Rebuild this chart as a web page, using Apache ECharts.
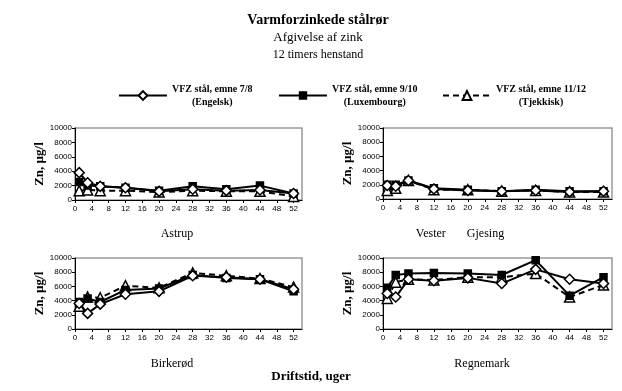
<!DOCTYPE html>
<html><head><meta charset="utf-8">
<script src="https://cdn.jsdelivr.net/npm/echarts@6/dist/echarts.min.js"></script>
<style>html,body{margin:0;padding:0;background:#fff}#c{width:622px;height:391px}</style>
</head><body><div id="c"></div>
<script>
const weeks = [1, 3, 6, 12, 20, 28, 36, 44, 52];
const seriesNames = ['VFZ stål, emne 7/8', 'VFZ stål, emne 9/10', 'VFZ stål, emne 11/12'];
const seriesOrigins = ['(Engelsk)', '(Luxembourg)', '(Tjekkisk)'];
const panelNames = ['Astrup', 'Vester       Gjesing', 'Birkerød', 'Regnemark'];
const xTicks = [0, 4, 8, 12, 16, 20, 24, 28, 32, 36, 40, 44, 48, 52];
const yTicks = [0, 2000, 4000, 6000, 8000, 10000];

// values per panel: [Engelsk, Luxembourg, Tjekkisk]
const astrupEngelsk    = [3800, 2400, 1900, 1700, 1200, 1500, 1300, 1400, 900];
const astrupLux        = [2500, 2000, 1900, 1700, 1300, 1900, 1500, 2000, 900];
const astrupTjek       = [1300, 1400, 1300, 1300, 1100, 1300, 1200, 1200, 500];
const vesterEngelsk    = [1900, 1800, 2600, 1400, 1200, 1100, 1200, 1000, 1100];
const vesterLux        = [2000, 2000, 2600, 1500, 1300, 1100, 1300, 1100, 1100];
const vesterTjek       = [1200, 1500, 2600, 1300, 1300, 1100, 1200, 1000, 1000];
const birkerodEngelsk  = [3600, 2200, 3500, 4900, 5300, 7500, 7300, 7000, 5600];
const birkerodLux      = [3800, 4300, 3800, 5500, 5700, 7600, 7200, 7000, 5300];
const birkerodTjek     = [3200, 4500, 4400, 6100, 5800, 7900, 7500, 7100, 5900];
const regnemarkEngelsk = [5000, 4500, 7000, 6800, 7200, 6400, 8400, 7000, 6400];
const regnemarkLux     = [5800, 7600, 7800, 7900, 7800, 7600, 9700, 4700, 7300];
const regnemarkTjek    = [4300, 6600, 7000, 6900, 7300, 7300, 7800, 4500, 6200];

const panels = [
  [astrupEngelsk, astrupLux, astrupTjek],
  [vesterEngelsk, vesterLux, vesterTjek],
  [birkerodEngelsk, birkerodLux, birkerodTjek],
  [regnemarkEngelsk, regnemarkLux, regnemarkTjek]
];

const serif = '"Liberation Serif", "Times New Roman", serif';
const sans = '"Liberation Sans", Arial, sans-serif';

const grids = [
  {left: 75, top: 128, width: 227, height: 72},
  {left: 383, top: 128, width: 229, height: 71},
  {left: 75, top: 258, width: 227, height: 71},
  {left: 383, top: 258, width: 229, height: 71}
];

const styles = [
  {symbol: 'diamond', symbolSize: 10, lineType: 'solid', itemColor: '#fff', borderColor: '#000', legendH: 11},
  {symbol: 'rect', symbolSize: 7, lineType: 'solid', itemColor: '#000', borderColor: '#000', legendH: 8},
  {symbol: 'triangle', symbolSize: 10, lineType: [6, 4], itemColor: '#fff', borderColor: '#000', legendH: 11}
];

const xAxes = grids.map((g, i) => ({
  gridIndex: i, type: 'value', min: 0, max: 54, interval: 4,
  axisLine: {lineStyle: {color: '#000', width: 1}},
  axisTick: {length: 3, lineStyle: {color: '#000'}},
  axisLabel: {fontFamily: sans, fontSize: 8, color: '#000', margin: 5, showMaxLabel: false,
    formatter: v => xTicks.indexOf(v) >= 0 ? String(v) : ''},
  splitLine: {show: false}
}));
const yAxes = grids.map((g, i) => ({
  gridIndex: i, type: 'value', min: 0, max: 10000, interval: 2000,
  name: 'Zn, µg/l', nameLocation: 'middle', nameGap: 29, nameRotate: 90,
  nameTextStyle: {fontFamily: serif, fontWeight: 'bold', fontSize: 13, color: '#000'},
  axisLine: {show: true, lineStyle: {color: '#000', width: 1}},
  axisTick: {show: true, length: 3, lineStyle: {color: '#000'}},
  axisLabel: {fontFamily: sans, fontSize: 8, color: '#000', margin: 3,
    formatter: v => yTicks.indexOf(v) >= 0 ? String(v) : ''},
  splitLine: {show: false}
}));

const series = [];
panels.forEach((vals, p) => {
  vals.forEach((arr, s) => {
    const st = styles[s];
    series.push({
      name: seriesNames[s], type: 'line', xAxisIndex: p, yAxisIndex: p,
      data: weeks.map((w, k) => [w, arr[k]]),
      symbol: st.symbol, symbolSize: st.symbolSize, showAllSymbol: true,
      lineStyle: {color: '#000', width: 2, type: st.lineType},
      itemStyle: {color: st.itemColor, borderColor: st.borderColor, borderWidth: 1.5},
      z: 3 - s, animation: false
    });
  });
});

const legendLefts = [113, 273, 437];
const legends = seriesNames.map((n, i) => ({
  data: [n], left: legendLefts[i], top: 79, itemWidth: 48, itemHeight: styles[i].legendH, itemGap: 0,
  selectedMode: true,
  formatter: name => '{a|' + name + '}\n{b|' + seriesOrigins[i] + '}',
  textStyle: {
    rich: {
      a: {fontFamily: serif, fontWeight: 'bold', fontSize: 10, color: '#000', lineHeight: 13},
      b: {fontFamily: serif, fontWeight: 'bold', fontSize: 10, color: '#000', lineHeight: 13, align: 'center'}
    }
  }
}));

const labelPos = [[177, 228], [460, 228], [172, 358], [482, 358]];
const titles = [
  {text: 'Varmforzinkede stålrør', left: 318, top: 13, textAlign: 'center',
   textStyle: {fontFamily: serif, fontWeight: 'bold', fontSize: 14, color: '#000'}},
  {text: 'Afgivelse af zink', left: 318, top: 31, textAlign: 'center',
   textStyle: {fontFamily: serif, fontWeight: 'normal', fontSize: 13, color: '#000'}},
  {text: '12 timers henstand', left: 318, top: 49, textAlign: 'center',
   textStyle: {fontFamily: serif, fontWeight: 'normal', fontSize: 12, color: '#000'}},
  {text: 'Driftstid, uger', left: 311, top: 370, textAlign: 'center',
   textStyle: {fontFamily: serif, fontWeight: 'bold', fontSize: 13, color: '#000'}}
].concat(panelNames.map((n, i) => ({
  text: n, left: labelPos[i][0], top: labelPos[i][1], textAlign: 'center',
  textStyle: {fontFamily: serif, fontWeight: 'normal', fontSize: 12, color: '#000'}
})));

const chart = echarts.init(document.getElementById('c'), null, {renderer: 'canvas'});
chart.setOption({
  backgroundColor: '#fff',
  animation: false,
  title: titles.map(t => Object.assign({padding: 0}, t)),
  legend: legends,
  grid: grids.map(g => Object.assign({show: true, borderColor: '#999', borderWidth: 1.5, backgroundColor: 'transparent'}, g)),
  xAxis: xAxes,
  yAxis: yAxes,
  series: series
});
</script></body></html>
